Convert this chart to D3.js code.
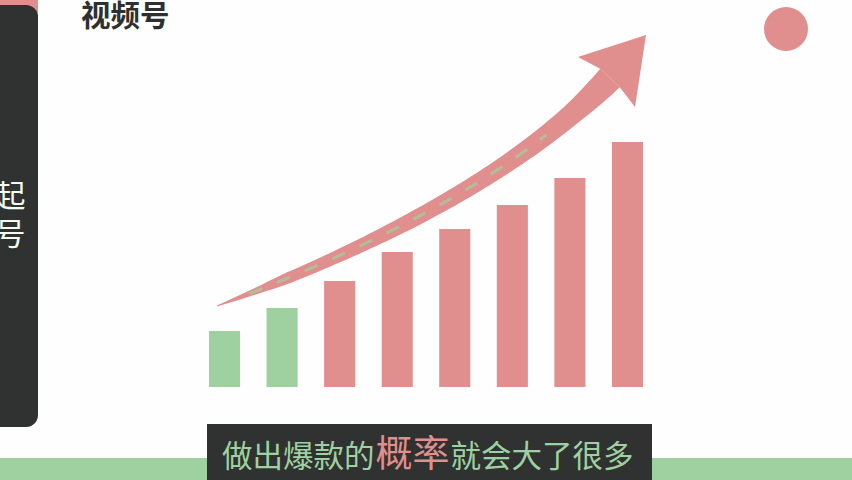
<!DOCTYPE html>
<html>
<head>
<meta charset="utf-8">
<script src="https://cdn.jsdelivr.net/npm/d3@7"></script>
<style>
  html, body { margin: 0; padding: 0; background: #fefefe; overflow: hidden; }
  svg { display: block; }
  text { font-family: "Noto Sans CJK SC", "Noto Sans", sans-serif; }
</style>
</head>
<body>
<svg id="chart" width="852" height="480"></svg>
<script>
// ---- data ----
const categories = ["1", "2", "3", "4", "5", "6", "7", "8"];
const values = [56, 79, 106, 135, 158, 182, 209, 245];
const barTypes = ["base", "base", "growth", "growth", "growth", "growth", "growth", "growth"];
const titleText = "视频号";
const sideLabel = "起号";
const captionParts = [
  { text: "做出爆款的", type: "normal" },
  { text: "概率", type: "highlight" },
  { text: "就会大了很多", type: "normal" }
];

// ---- style ----
const PINK = "#e08e8e";
const GREEN = "#9fd1a0";
const DARK = "#2f3231";

const svg = d3.select("#chart");
const W = 852, H = 480;

svg.append("rect").attr("width", W).attr("height", H).attr("fill", "#fefefe");

// bottom green band
svg.append("rect").attr("x", 0).attr("y", 458).attr("width", W).attr("height", H - 458).attr("fill", GREEN);

// left sidebar
svg.append("rect").attr("x", 0).attr("y", 0).attr("width", 38).attr("height", 22).attr("fill", PINK);
svg.append("rect").attr("x", -20).attr("y", 5).attr("width", 58).attr("height", 422)
  .attr("rx", 12).attr("fill", DARK);
svg.append("text")
  .attr("x", 10).attr("y", 180)
  .attr("writing-mode", "tb")
  .attr("font-size", 31)
  .attr("letter-spacing", 7)
  .attr("fill", "#f2faf2")
  .text(sideLabel);

// title
svg.append("text").attr("x", 81).attr("y", 26)
  .attr("font-size", 29.5).attr("font-weight", 700).attr("fill", "#2e302f")
  .text(titleText);

// pink circle
svg.append("circle").attr("cx", 786).attr("cy", 29).attr("r", 22).attr("fill", PINK);

// ---- bars ----
const x = d3.scaleBand().domain(categories).range([209, 643]).paddingInner(0.46).paddingOuter(0);
const y = d3.scaleLinear().domain([0, 245]).range([387, 142]);

svg.append("g").selectAll("rect").data(values).join("rect")
  .attr("x", (d, i) => x(categories[i]))
  .attr("y", d => y(d))
  .attr("width", x.bandwidth())
  .attr("height", d => y(0) - y(d))
  .attr("fill", (d, i) => barTypes[i] === "base" ? GREEN : PINK);

// ---- curved arrow (decoration) ----
const P0 = [217, 306], P1 = [490, 204], P2 = [610, 78];
const bez = t => [
  (1 - t) * (1 - t) * P0[0] + 2 * t * (1 - t) * P1[0] + t * t * P2[0],
  (1 - t) * (1 - t) * P0[1] + 2 * t * (1 - t) * P1[1] + t * t * P2[1]
];
const bezD = t => [
  2 * (1 - t) * (P1[0] - P0[0]) + 2 * t * (P2[0] - P1[0]),
  2 * (1 - t) * (P1[1] - P0[1]) + 2 * t * (P2[1] - P1[1])
];
const widthAt = d3.scaleLinear().domain([0, 0.13, 0.4, 0.65, 0.85, 1]).range([1, 11, 15.5, 18, 21, 27]);
const ts = d3.range(0, 1.0001, 1 / 80);
const upper = [], lower = [];
ts.forEach(t => {
  const p = bez(t), d = bezD(t);
  const len = Math.hypot(d[0], d[1]);
  const n = [d[1] / len, -d[0] / len];
  const w = widthAt(t) / 2;
  upper.push([p[0] + n[0] * w, p[1] + n[1] * w]);
  lower.push([p[0] - n[0] * w, p[1] - n[1] * w]);
});
const shaft = upper.concat(lower.reverse());
svg.append("path").attr("d", d3.line()(shaft) + "Z").attr("fill", PINK);

const uEnd = upper[upper.length - 1];
const lEnd = lower[0];
const head = [uEnd, [578, 57], [646, 35], [635, 107], lEnd];
svg.append("path").attr("d", d3.line()(head) + "Z").attr("fill", PINK);

// faint green dashes inside shaft
const mid = d3.range(0.06, 0.78, 0.01).map(bez);
svg.append("path").attr("d", d3.line().curve(d3.curveBasis)(mid))
  .attr("fill", "none").attr("stroke", GREEN).attr("stroke-width", 3)
  .attr("stroke-dasharray", "14 16").attr("opacity", 0.7);

// ---- caption ----
svg.append("rect").attr("x", 207).attr("y", 424).attr("width", 445).attr("height", 56).attr("fill", DARK);
const cap = svg.append("text").attr("x", 222).attr("y", 467);
captionParts.forEach((p, i) => {
  cap.append("tspan")
    .attr("dx", i === 0 ? 0 : 1)
    .attr("font-size", p.type === "highlight" ? 37 : 30.5)
    .attr("fill", p.type === "highlight" ? PINK : GREEN)
    .text(p.text);
});
</script>
</body>
</html>
